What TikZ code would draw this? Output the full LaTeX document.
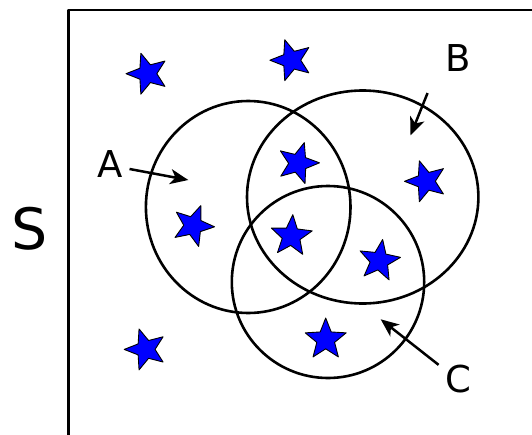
\documentclass[tikz,border=0pt]{standalone}
\usepackage{fontspec}
\setmainfont{DejaVu Sans}
\usetikzlibrary{shapes.geometric,arrows.meta}
\definecolor{ink}{HTML}{000000}
\definecolor{starblue}{HTML}{0000FF}
\tikzset{
  every picture/.style = {line join=round},
  ring/.style          = {line width=2.6pt, draw=ink},
  frame/.style         = {line width=2.6pt, draw=ink},
  elem/.style          = {star, star points=5, star point ratio=2.3, minimum size=43pt,
                          inner sep=0pt, draw=ink, fill=starblue, line width=0.9pt},
  setlabel/.style      = {inner sep=0pt, text=ink, font=\fontsize{37}{40}\selectfont},
  pointer/.style       = {line width=2.5pt, draw=ink, -{Stealth[length=18pt,width=15pt,inset=5pt]}},
}

\begin{document}
\begin{tikzpicture}[x=1pt, y=-1pt]
  \useasboundingbox (0,0) rectangle (532,434);

  % ---------- the universe: a box running off the page -----------------------
  \begin{scope}
    \clip (0,0) rectangle (532,434);
    \draw[frame] (68.5,10) rectangle (600,500);
  \end{scope}
  \node[setlabel, font=\fontsize{57}{60}\selectfont] (labS) at (29.5,228.5) {S};

  % ---------- the three sets ---------------------------------------------------
  \draw[ring] (248.2,207) ellipse [x radius=102.3, y radius=106];   % A
  \draw[ring] (362.7,197) ellipse [x radius=115.7, y radius=106.5]; % B
  \draw[ring] (328,282)   ellipse [x radius=96.2,  y radius=96];    % C

  % ---------- the elements (name/x/y/tilt) -------------------------------------
  \foreach \name/\x/\y/\r in {s1/147.5/73.7/18, s2/291.4/60.2/18, s3/298/163.2/-17,
                              s4/426/181.3/18, s5/193.1/225.7/-21, s6/291.3/236.1/-4,
                              s7/379.3/260.7/-9, s8/145.7/349.4/18, s9/325.7/339.5/0}
    \node[elem, rotate=\r] (\name) at (\x,\y) {};

  % ---------- labels and their pointers ----------------------------------------
  \node[setlabel] (labA) at (109.8,163.7) {A};
  \node[setlabel] (labB) at (458,58)      {B};
  \node[setlabel] (labC) at (458,379)     {C};

  \coordinate (tipA) at (188.3,180);
  \coordinate (tipB) at (410.5,135.5);
  \coordinate (tipC) at (380.7,319.3);

  \draw[pointer, shorten <=7pt]  ([yshift=-4pt]labA.east)       -- (tipA);
  \draw[pointer, shorten <=23pt] ([xshift=-9pt]labB.south west) -- (tipB);
  \draw[pointer, shorten <=8pt]  ([yshift=-5pt]labC.north west) -- (tipC);
\end{tikzpicture}
\end{document}
